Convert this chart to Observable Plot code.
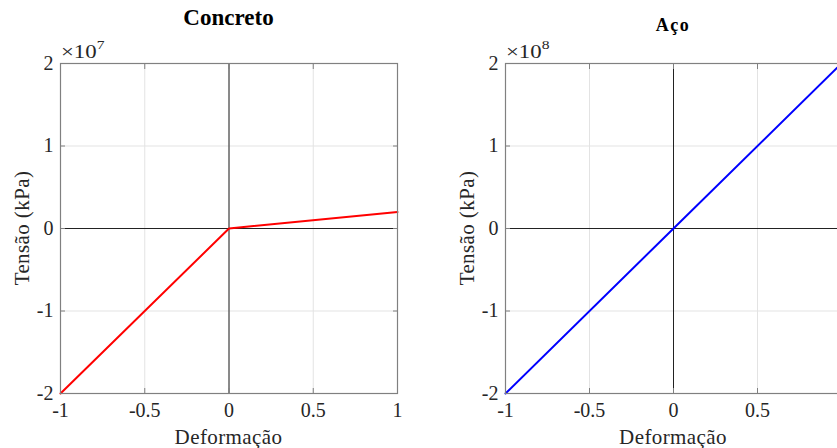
<!DOCTYPE html>
<html>
<head>
<meta charset="utf-8">
<script src="https://cdn.jsdelivr.net/npm/d3@7"></script>
<script src="https://cdn.jsdelivr.net/npm/@observablehq/plot@0.6"></script>
<style>
  html, body { margin: 0; padding: 0; background: #fff; overflow: hidden; }
  #wrap { position: relative; width: 837px; height: 448px; overflow: hidden; font-family: "Liberation Serif", "Times New Roman", serif; color: #262626; }
  .panel { position: absolute; top: 0; width: 420px; height: 448px; }
  .panel svg { max-width: none !important; }
  .title { position: absolute; font-weight: bold; color: #000; white-space: nowrap; line-height: 1; transform: translateX(-50%); }
  .xlabel { position: absolute; font-size: 21px; line-height: 1; letter-spacing: 0.4px; white-space: nowrap; transform: translateX(-50%); }
  .ylabel { position: absolute; font-size: 21px; line-height: 1; letter-spacing: 0.4px; white-space: nowrap; transform: translate(-50%, -50%) rotate(-90deg); }
  .expo { position: absolute; font-size: 19px; line-height: 1; white-space: nowrap; transform: scaleX(1.2); transform-origin: left top; }
  .expo sup { font-size: 13px; vertical-align: 0; position: relative; top: -9px; }
</style>
</head>
<body>
<div id="wrap"></div>
<script>
// ---- data ----
const strain = [-1, 0, 1];
const concreteStress = [-2e7, 0, 2e6];
const steelStress = [-2e8, 0, 2e8];
const xTicks = [-1, -0.5, 0, 0.5, 1];
const yTickLabels = [-2, -1, 0, 1, 2];
const titles = ["Concreto", "Aço"];
const exponents = [7, 8];
const xLabel = "Deformação";
const yLabel = "Tensão (kPa)";

const wrap = document.getElementById("wrap");

function panel({left, stress, exponent, color, title, titleSize, titleTop, titleSpacing, marginLeft, marginRight}) {
  const scale = Math.pow(10, exponent);
  const data = strain.map((s, i) => ({x: s, y: stress[i]}));
  const yTicks = yTickLabels.map(v => v * scale);
  const width = 420, height = 448;
  const mTop = 63, mBottom = 55;
  const chart = Plot.plot({
    width, height,
    marginLeft, marginRight, marginTop: mTop, marginBottom: mBottom,
    style: {fontFamily: "Liberation Serif, Times New Roman, serif", fontSize: "20px", color: "#262626", background: "transparent", overflow: "visible"},
    x: {domain: [-1, 1], label: null},
    y: {domain: [-2 * scale, 2 * scale], label: null},
    marks: [
      Plot.gridX(xTicks, {stroke: "#e3e3e3", strokeOpacity: 1}),
      Plot.gridY(yTicks, {stroke: "#e3e3e3", strokeOpacity: 1}),
      Plot.ruleX([0], {stroke: "#222", strokeWidth: 1}),
      Plot.ruleY([0], {stroke: "#222", strokeWidth: 1}),
      Plot.line(data, {x: "x", y: "y", stroke: color, strokeWidth: 2}),
      Plot.frame({stroke: "#808080", strokeWidth: 1.2}),
      Plot.axisX(xTicks, {anchor: "bottom", tickSize: 0, tickPadding: 9, tickFormat: d => String(d), label: null}),
      Plot.axisY(yTicks, {anchor: "left", tickSize: 0, tickPadding: 7, tickFormat: d => String(Math.round(d / scale)), label: null}),
      Plot.axisX(xTicks, {anchor: "bottom", tickSize: -5, text: null, stroke: "#808080", label: null}),
      Plot.axisX(xTicks, {anchor: "top", tickSize: -5, text: null, stroke: "#808080", label: null}),
      Plot.axisY(yTicks, {anchor: "left", tickSize: -5, text: null, stroke: "#808080", label: null}),
      Plot.axisY(yTicks, {anchor: "right", tickSize: -5, text: null, stroke: "#808080", label: null})
    ]
  });
  const div = document.createElement("div");
  div.className = "panel";
  div.style.left = left + "px";
  div.appendChild(chart);
  wrap.appendChild(div);

  const cx = left + marginLeft + (width - marginLeft - marginRight) / 2;
  const cy = mTop + (height - mTop - mBottom) / 2;

  const t = document.createElement("div");
  t.className = "title";
  t.textContent = title;
  t.style.left = cx + "px";
  t.style.top = titleTop + "px";
  t.style.fontSize = titleSize + "px";
  t.style.letterSpacing = titleSpacing + "px";
  wrap.appendChild(t);

  const xl = document.createElement("div");
  xl.className = "xlabel";
  xl.textContent = xLabel;
  xl.style.left = cx + "px";
  xl.style.top = "427px";
  wrap.appendChild(xl);

  const yl = document.createElement("div");
  yl.className = "ylabel";
  yl.textContent = yLabel;
  yl.style.left = (left + marginLeft - 38) + "px";
  yl.style.top = cy + "px";
  wrap.appendChild(yl);

  const e = document.createElement("div");
  e.className = "expo";
  e.innerHTML = "×10<sup>" + exponent + "</sup>";
  e.style.left = (left + marginLeft + 1) + "px";
  e.style.top = "42px";
  wrap.appendChild(e);
}

panel({left: 0, stress: concreteStress, exponent: exponents[0], color: "#ff0000", title: titles[0], titleSize: 23, titleTop: 6, titleSpacing: 0, marginLeft: 60, marginRight: 23});
panel({left: 440, stress: steelStress, exponent: exponents[1], color: "#0000ff", title: titles[1], titleSize: 18, titleTop: 16, titleSpacing: 1.5, marginLeft: 65, marginRight: 19});
</script>
</body>
</html>
